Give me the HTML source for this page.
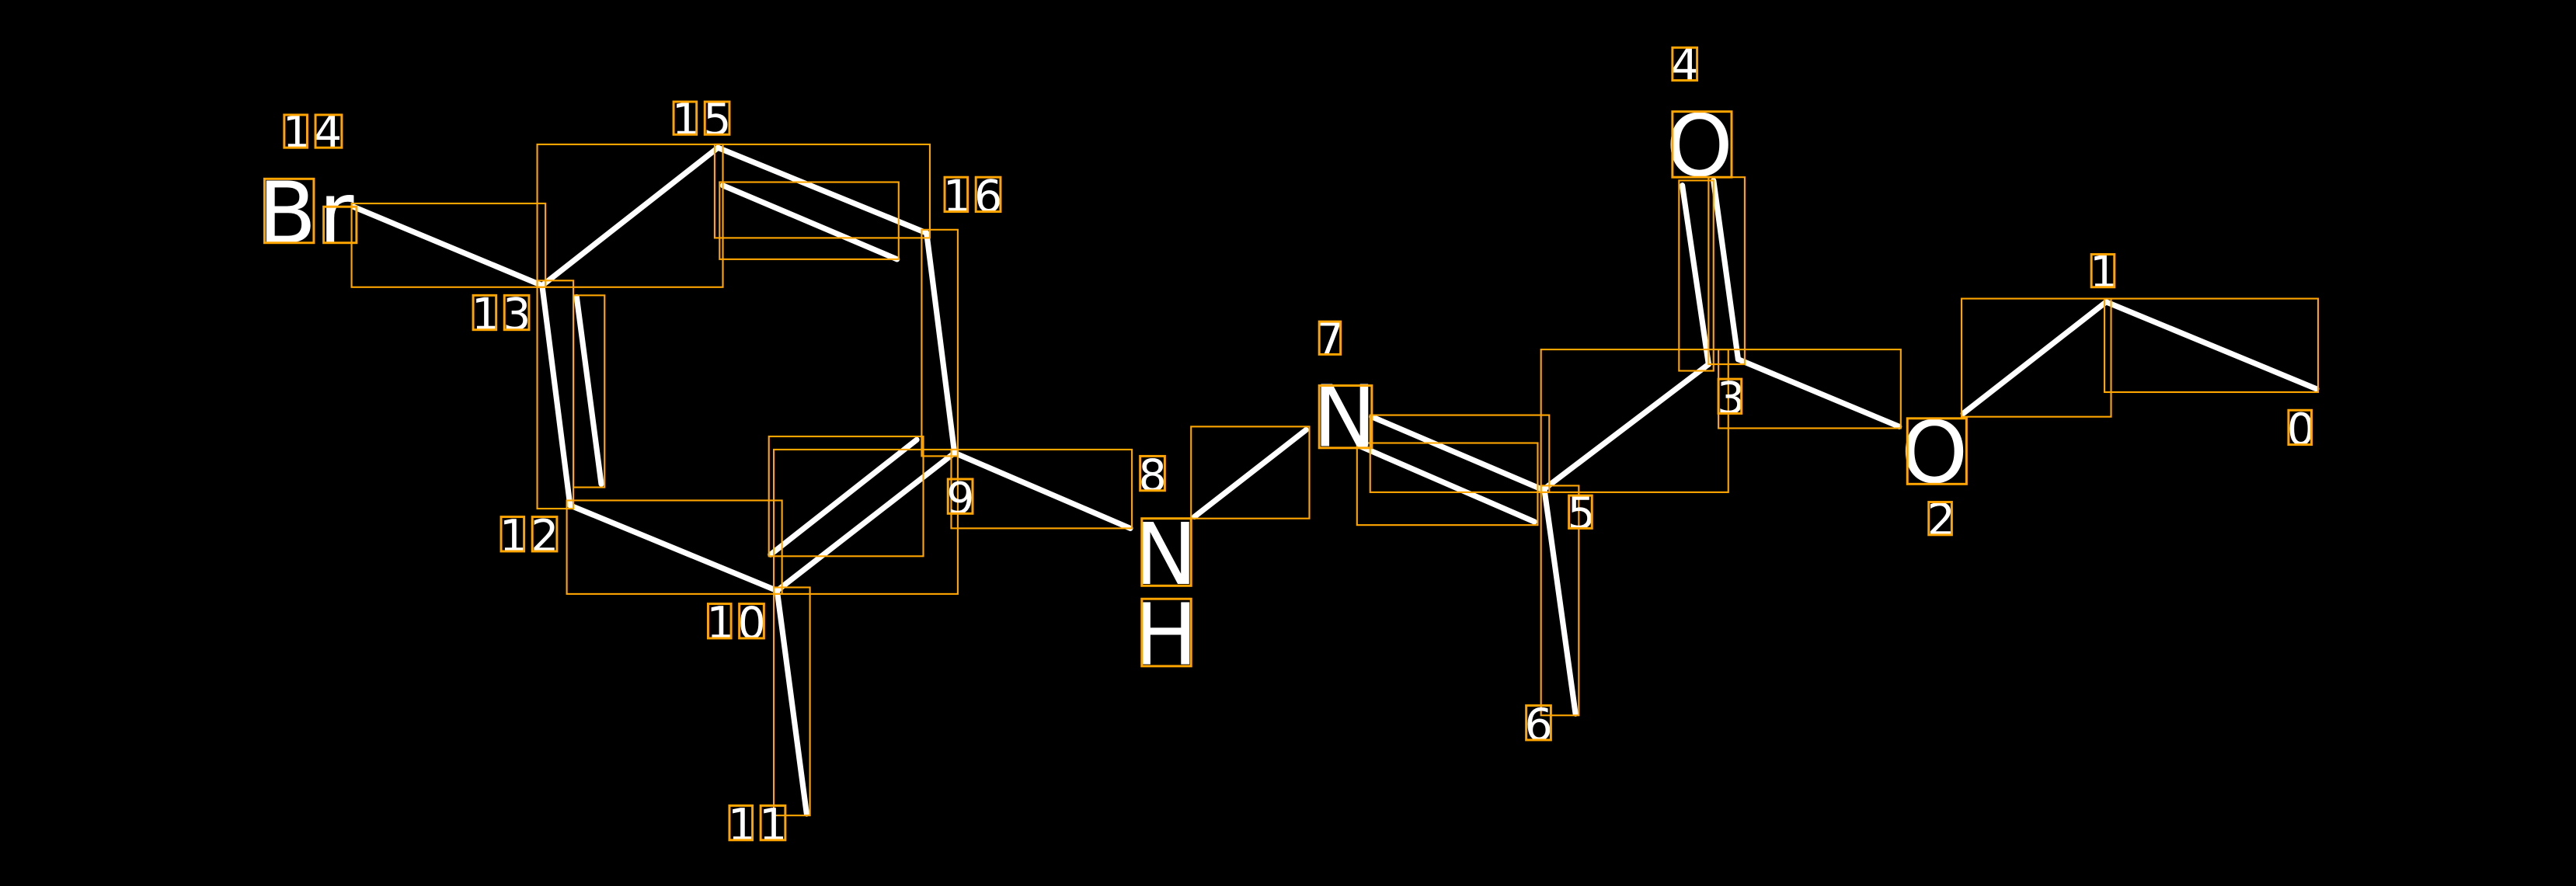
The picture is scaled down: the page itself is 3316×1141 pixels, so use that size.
<!DOCTYPE html>
<html><head><meta charset="utf-8"><style>
html,body{margin:0;padding:0;background:#000;width:3316px;height:1141px;overflow:hidden}
svg{display:block}
text{font-family:"DejaVu Sans","Liberation Sans",sans-serif;fill:#fff}
.b{stroke:#fff;stroke-width:3.4;stroke-linecap:round}
.o{fill:none;stroke:#FFA500;stroke-width:1}
.ob{fill:none;stroke:#FFA500;stroke-width:1.4}
.n{font-size:27px}
.a{font-size:52px}
</style></head><body>
<svg width="3316" height="1141" viewBox="0 0 1568 540" preserveAspectRatio="none" xmlns="http://www.w3.org/2000/svg">
<rect width="1568" height="540" fill="#000"/>
<g class="b">
<line x1="215" y1="126" x2="330" y2="174"/>
<line x1="330" y1="174" x2="437" y2="90"/>
<line x1="437" y1="90" x2="564" y2="142"/>
<line x1="440" y1="113" x2="546" y2="158"/>
<line x1="564" y1="142" x2="581" y2="276"/>
<line x1="330" y1="174" x2="347" y2="308"/>
<line x1="351" y1="181" x2="366" y2="295"/>
<line x1="347" y1="308" x2="473" y2="360"/>
<line x1="473" y1="360" x2="581" y2="276"/>
<line x1="469" y1="338" x2="558" y2="268"/>
<line x1="473" y1="360" x2="491" y2="496"/>
<line x1="581" y1="276" x2="688" y2="322"/>
<line x1="727" y1="315" x2="795" y2="262"/>
<line x1="835" y1="254" x2="938" y2="298"/>
<line x1="828" y1="272" x2="934" y2="318"/>
<line x1="940" y1="298" x2="1040" y2="222"/>
<line x1="940" y1="298" x2="959" y2="435"/>
<line x1="1024" y1="113" x2="1040" y2="222"/>
<line x1="1043" y1="110" x2="1058" y2="219"/>
<line x1="1058" y1="219" x2="1156" y2="260"/>
<line x1="1195" y1="252" x2="1282" y2="184"/>
<line x1="1282" y1="184" x2="1410" y2="237"/>
</g>
<g class="o">
<rect x="214" y="124" width="118" height="51"/>
<rect x="327" y="88" width="113" height="87"/>
<rect x="435" y="88" width="131" height="57"/>
<rect x="438" y="111" width="109" height="47"/>
<rect x="561" y="140" width="22" height="138"/>
<rect x="327" y="171" width="22" height="139"/>
<rect x="349" y="180" width="19" height="117"/>
<rect x="345" y="305" width="131" height="57"/>
<rect x="471" y="274" width="112" height="88"/>
<rect x="468" y="266" width="94" height="73"/>
<rect x="471" y="358" width="22" height="139"/>
<rect x="579" y="274" width="110" height="48"/>
<rect x="725" y="260" width="72" height="56"/>
<rect x="834" y="253" width="109" height="47"/>
<rect x="826" y="270" width="110" height="50"/>
<rect x="938" y="213" width="114" height="87"/>
<rect x="938" y="296" width="23" height="140"/>
<rect x="1022" y="110" width="21" height="116"/>
<rect x="1040" y="108" width="22" height="114"/>
<rect x="1046" y="213" width="111" height="48"/>
<rect x="1194" y="182" width="91" height="72"/>
<rect x="1281" y="182" width="130" height="57"/>
</g>
<text class="a" x="157" y="148">B</text><rect class="ob" x="161" y="109" width="30" height="39"/>
<text class="a" x="194" y="148">r</text><rect class="ob" x="197" y="126" width="20" height="22"/>
<text class="a" x="690" y="356">N</text><rect class="ob" x="695" y="316" width="30" height="41"/>
<text class="a" x="690" y="405">H</text><rect class="ob" x="695" y="365" width="30" height="41"/>
<text class="a" x="799" y="272">N</text><rect class="ob" x="803" y="235" width="32" height="38"/>
<text class="a" x="1014" y="107">O</text><rect class="ob" x="1018" y="68" width="36" height="40"/>
<text class="a" x="1157" y="294">O</text><rect class="ob" x="1161" y="255" width="36" height="40"/>
<g class="n">
<text x="172" y="90">1</text><text x="191" y="90">4</text>
<text x="409" y="82">1</text><text x="428" y="82">5</text>
<text x="574" y="129">1</text><text x="593" y="129">6</text>
<text x="287" y="201">1</text><text x="306" y="201">3</text>
<text x="304" y="336">1</text><text x="323" y="336">2</text>
<text x="430" y="389">1</text><text x="449" y="389">0</text>
<text x="443" y="512">1</text><text x="462" y="512">1</text>
<text x="576" y="313">9</text>
<text x="693" y="299">8</text>
<text x="801" y="216">7</text>
<text x="954" y="322">5</text>
<text x="928" y="451">6</text>
<text x="1017" y="49">4</text>
<text x="1045" y="252">3</text>
<text x="1173" y="326">2</text>
<text x="1272" y="175">1</text>
<text x="1392" y="271">0</text>
</g>
<g class="ob">
<rect x="173" y="70" width="14" height="20"/><rect x="192" y="70" width="16" height="20"/>
<rect x="410" y="62" width="14" height="20"/><rect x="429" y="62" width="15" height="20"/>
<rect x="575" y="108" width="14" height="21"/><rect x="594" y="108" width="15" height="21"/>
<rect x="288" y="180" width="14" height="21"/><rect x="307" y="180" width="15" height="21"/>
<rect x="305" y="315" width="14" height="21"/><rect x="324" y="315" width="15" height="21"/>
<rect x="431" y="368" width="14" height="21"/><rect x="450" y="368" width="15" height="21"/>
<rect x="444" y="491" width="14" height="21"/><rect x="463" y="491" width="15" height="21"/>
<rect x="577" y="292" width="15" height="21"/>
<rect x="694" y="278" width="15" height="21"/>
<rect x="803" y="196" width="13" height="20"/>
<rect x="955" y="302" width="14" height="20"/>
<rect x="929" y="430" width="15" height="21"/>
<rect x="1018" y="29" width="15" height="20"/>
<rect x="1046" y="231" width="14" height="21"/>
<rect x="1174" y="306" width="14" height="20"/>
<rect x="1273" y="155" width="14" height="20"/>
<rect x="1393" y="250" width="14" height="21"/>
</g>
</svg>
</body></html>
